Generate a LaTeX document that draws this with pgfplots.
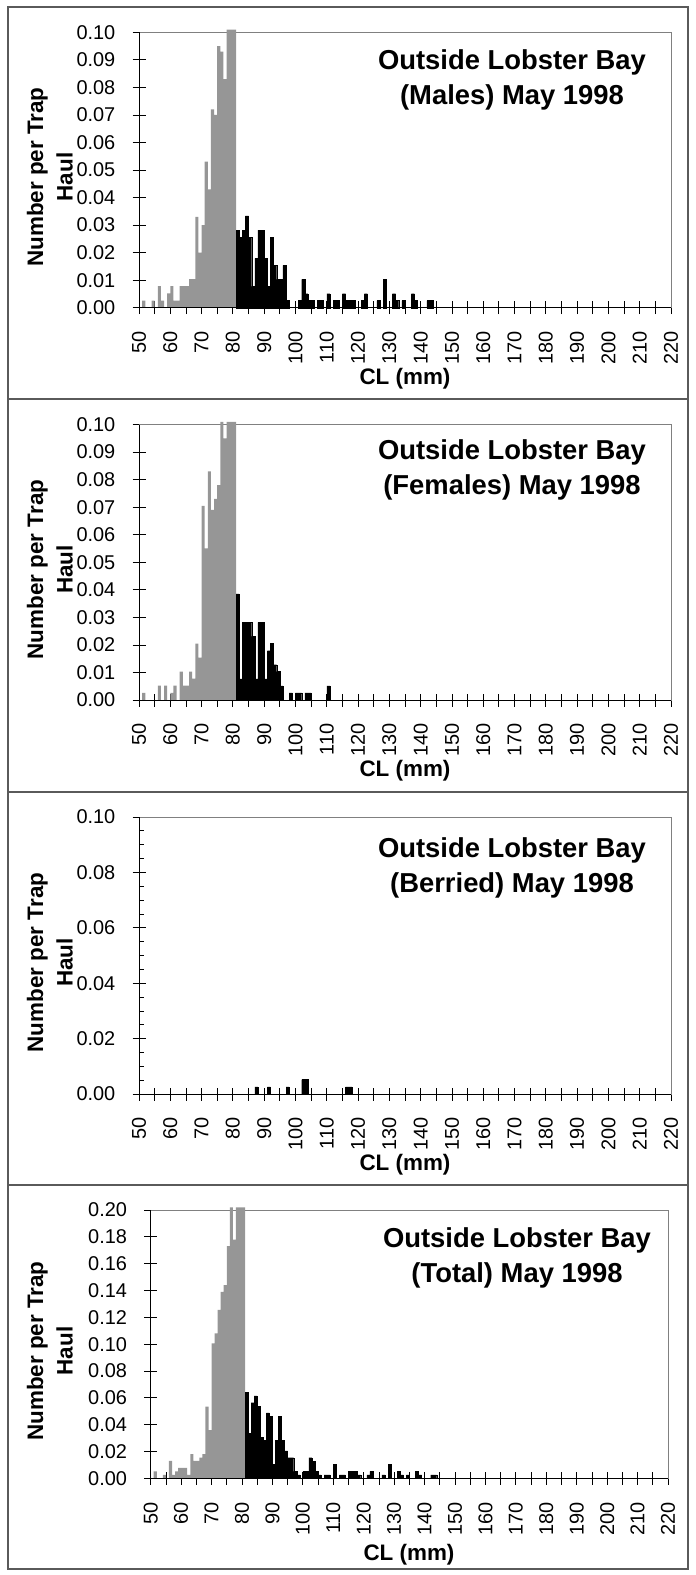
\documentclass[border=0pt]{standalone}
\usepackage{pgfplots}
\pgfplotsset{compat=1.18}
\usepackage{pgfplotstable}
\usepackage{fontspec}
\setmainfont{Liberation Sans}

\definecolor{barGray}{RGB}{150,150,150}
\definecolor{frameGray}{RGB}{128,128,128}
\definecolor{panelLine}{RGB}{90,90,90}

% Number per trap haul by 1 mm carapace-length bin (bins with no catch omitted)
\pgfplotstableread{
cl n
51 0.0026
54 0.0026
56 0.0078
57 0.0026
59 0.0052
60 0.0078
61 0.0026
62 0.0026
63 0.0078
64 0.0078
65 0.0078
66 0.0104
67 0.0104
68 0.0330
69 0.0200
70 0.0300
71 0.0530
72 0.0430
73 0.0720
74 0.0700
75 0.0950
76 0.0930
77 0.0830
78 0.1010
79 0.1010
80 0.1010
81 0.0282
82 0.0256
83 0.0282
84 0.0333
85 0.0256
86 0.0077
87 0.0179
88 0.0282
89 0.0282
90 0.0179
91 0.0077
92 0.0256
93 0.0154
94 0.0103
95 0.0103
96 0.0154
97 0.0026
101 0.0026
102 0.0103
103 0.0051
104 0.0026
105 0.0026
107 0.0026
108 0.0026
110 0.0051
112 0.0026
113 0.0026
115 0.0051
116 0.0026
117 0.0026
118 0.0026
121 0.0026
122 0.0051
126 0.0026
128 0.0103
131 0.0051
132 0.0026
134 0.0026
137 0.0051
138 0.0026
142 0.0026
143 0.0026
}\males

\pgfplotstableread{
cl n
51 0.0026
56 0.0052
58 0.0052
60 0.0026
61 0.0052
63 0.0103
64 0.0052
65 0.0052
66 0.0103
67 0.0078
68 0.0205
69 0.0154
70 0.0705
71 0.0550
72 0.0830
73 0.0690
74 0.0730
75 0.0780
76 0.1010
77 0.0950
78 0.1010
79 0.1010
80 0.1010
81 0.0385
82 0.0077
83 0.0282
84 0.0282
85 0.0282
86 0.0231
87 0.0077
88 0.0282
89 0.0282
90 0.0077
91 0.0179
92 0.0205
93 0.0128
94 0.0103
95 0.0051
98 0.0026
100 0.0026
101 0.0026
103 0.0026
104 0.0026
110 0.0051
}\females

\pgfplotstableread{
cl n
87 0.0026
91 0.0026
97 0.0026
102 0.0052
103 0.0052
116 0.0026
117 0.0026
}\berried

\pgfplotstableread{
cl n
51 0.0052
54 0.0026
56 0.0130
57 0.0026
58 0.0052
59 0.0078
60 0.0078
61 0.0078
62 0.0026
63 0.0180
64 0.0130
65 0.0130
66 0.0155
67 0.0180
68 0.0535
69 0.0360
70 0.1005
71 0.1080
72 0.1255
73 0.1390
74 0.1440
75 0.1730
76 0.2020
77 0.1780
78 0.2020
79 0.2020
80 0.2020
81 0.0641
82 0.0333
83 0.0564
84 0.0615
85 0.0538
86 0.0308
87 0.0282
88 0.0487
89 0.0462
90 0.0103
91 0.0282
92 0.0462
93 0.0282
94 0.0205
95 0.0154
96 0.0154
97 0.0051
98 0.0026
100 0.0051
101 0.0051
102 0.0154
103 0.0128
104 0.0051
105 0.0026
107 0.0026
108 0.0026
110 0.0103
112 0.0026
113 0.0026
115 0.0051
116 0.0051
117 0.0051
118 0.0026
121 0.0026
122 0.0051
126 0.0026
128 0.0103
131 0.0051
132 0.0026
134 0.0026
137 0.0051
138 0.0026
142 0.0026
143 0.0026
}\total

\pgfplotsset{
  lfpanel/.style={
    scale only axis,
    xmin=50, xmax=220, ymin=0,
    clip=false,
    axis line style={draw=frameGray, line width=1bp},
    xtick pos=bottom, ytick pos=left,
    tick align=center,
    major tick length=13bp,
    minor tick length=13bp,
    tick style={black, line width=0.8bp},
    xtick={50,60,...,220},
    minor xtick={55,65,...,215},
    /pgf/number format/assume math mode=true,
    xticklabel style={rotate=90, anchor=east, inner sep=0pt,
      font=\fontsize{20}{24}\selectfont},
    yticklabel style={anchor=east, inner sep=0pt,
      font=\fontsize{20}{24}\selectfont,
      /pgf/number format/.cd, fixed, fixed zerofill, precision=2},
    xticklabel shift=17bp,
    yticklabel shift=17bp,
  },
  sublegal/.style={ybar, bar width=1, bar shift=0pt, fill=barGray, draw=none,
    restrict x to domain=50:81},
  legal/.style={ybar, bar width=1, bar shift=0pt, fill=black, draw=black,
    line width=0.3bp, restrict x to domain=81:221},
}

\newcommand{\axislines}{%
  \draw[black, line width=1bp] (rel axis cs:0,1) -- (rel axis cs:0,0) -- (rel axis cs:1,0);}

\begin{document}
\begin{tikzpicture}
\tikzset{
  ttl/.style={anchor=north, align=center, inner sep=0pt,
    font=\bfseries\fontsize{27.5}{35}\selectfont},
  ylab/.style={rotate=90, anchor=south, align=center, inner sep=0pt,
    font=\bfseries\fontsize{22.5}{29.5}\selectfont},
  xlab/.style={anchor=base, inner sep=0pt,
    font=\bfseries\fontsize{22.5}{27}\selectfont},
}

% Males
\begin{axis}[lfpanel, at={(139bp,-307.7bp)}, anchor=south west,
  width=532bp, height=275.4bp, ymax=0.1,
  ytick={0,0.01,0.02,0.03,0.04,0.05,0.06,0.07,0.08,0.09,0.1}]
  \addplot[sublegal] table[x expr=\thisrow{cl}+0.5, y=n] {\males};
  \addplot[legal] table[x expr=\thisrow{cl}+0.5, y=n] {\males};
  \axislines
\end{axis}
\node[ttl] at (512bp,-49.5bp) {Outside Lobster Bay\\(Males) May 1998};
\node[ylab] at (73bp,-177bp) {Number per Trap\\Haul};
\node[xlab] at (405bp,-384bp) {CL (mm)};

% Females
\begin{axis}[lfpanel, at={(139bp,-700bp)}, anchor=south west,
  width=532bp, height=275.5bp, ymax=0.1,
  ytick={0,0.01,0.02,0.03,0.04,0.05,0.06,0.07,0.08,0.09,0.1}]
  \addplot[sublegal] table[x expr=\thisrow{cl}+0.5, y=n] {\females};
  \addplot[legal] table[x expr=\thisrow{cl}+0.5, y=n] {\females};
  \axislines
\end{axis}
\node[ttl] at (512bp,-439.5bp) {Outside Lobster Bay\\(Females) May 1998};
\node[ylab] at (73bp,-569.5bp) {Number per Trap\\Haul};
\node[xlab] at (405bp,-776bp) {CL (mm)};

% Berried females
\begin{axis}[lfpanel, at={(139bp,-1094bp)}, anchor=south west,
  width=532bp, height=277bp, ymax=0.1,
  ytick={0,0.02,0.04,0.06,0.08,0.1},
  extra y ticks={0.005,0.01,0.015,0.025,0.03,0.035,0.045,0.05,0.055,0.065,0.07,0.075,0.085,0.09,0.095},
  extra y tick labels={},
  extra y tick style={tick align=inside, major tick length=5bp}]
  \addplot[legal] table[x expr=\thisrow{cl}+0.5, y=n] {\berried};
  \axislines
\end{axis}
\node[ttl] at (512bp,-837.5bp) {Outside Lobster Bay\\(Berried) May 1998};
\node[ylab] at (73bp,-962.5bp) {Number per Trap\\Haul};
\node[xlab] at (405bp,-1170bp) {CL (mm)};

% Total
\begin{axis}[lfpanel, at={(150.7bp,-1478.3bp)}, anchor=south west,
  width=517.3bp, height=268.3bp, ymax=0.2,
  ytick={0,0.02,0.04,0.06,0.08,0.1,0.12,0.14,0.16,0.18,0.2}]
  \addplot[sublegal] table[x expr=\thisrow{cl}+0.5, y=n] {\total};
  \addplot[legal] table[x expr=\thisrow{cl}+0.5, y=n] {\total};
  \axislines
\end{axis}
\node[ttl] at (517bp,-1227.5bp) {Outside Lobster Bay\\(Total) May 1998};
\node[ylab] at (73bp,-1351bp) {Number per Trap\\Haul};
\node[xlab] at (409bp,-1560bp) {CL (mm)};

% panel frames
\draw[panelLine, line width=1.2bp] (8bp,-7bp) rectangle (688bp,-1569bp);
\draw[panelLine, line width=1.2bp] (8bp,-399bp) -- (688bp,-399bp);
\draw[panelLine, line width=1.2bp] (8bp,-792bp) -- (688bp,-792bp);
\draw[panelLine, line width=1.2bp] (8bp,-1185bp) -- (688bp,-1185bp);

\pgfresetboundingbox
\useasboundingbox (0,0) rectangle (696bp,-1575bp);
\end{tikzpicture}
\end{document}
